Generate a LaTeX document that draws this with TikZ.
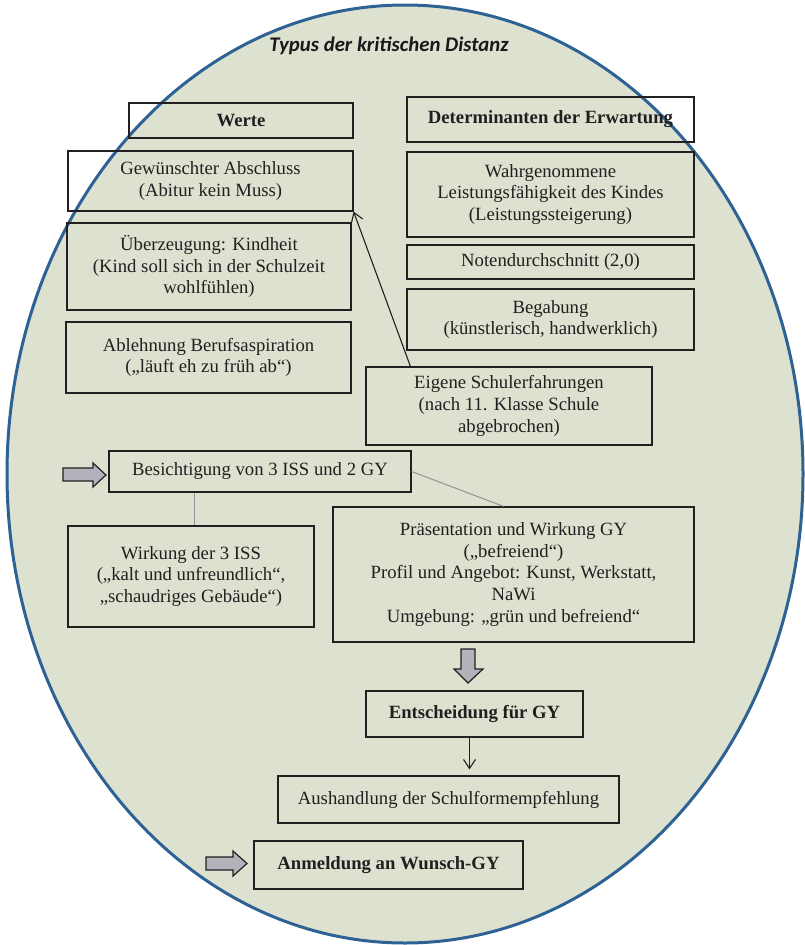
\documentclass[tikz,border=0pt]{standalone}
\usepackage{fontspec}
\setmainfont{Liberation Serif}
\newfontfamily\titelschrift{Carlito}
\usetikzlibrary{arrows.meta,backgrounds}
\definecolor{randblau}{RGB}{47,98,148}
\definecolor{flaeche}{RGB}{221,225,207}
\definecolor{pfeilgrau}{RGB}{178,178,186}
\definecolor{textgrau}{RGB}{35,31,32}
\newcommand{\randfarbe}{randblau}
\newcommand{\linienbreite}{1.2pt}
\newcommand{\schrift}{\fontsize{18.7}{21.7}\selectfont}
\tikzset{
  kasten/.style={draw=textgrau, line width=\linienbreite, inner sep=0pt, align=center, font=\schrift, text=textgrau},
  linie/.style={draw=gray!85, line width=1pt},
  pfeil/.style={draw=textgrau, line width=1.1pt, -{Straight Barb[length=9pt,width=12pt]}},
  blockpfeil/.style={draw=textgrau, fill=pfeilgrau, line width=1.2pt, line join=miter}
}

\begin{document}
\begin{tikzpicture}[x=1pt,y=-1pt]
\useasboundingbox (0,0) rectangle (804,945);
\node[font=\titelschrift\bfseries\itshape\fontsize{20.8}{24}\selectfont, text=black!90] (titel) at (389, 46) {Typus der kritischen Distanz};
%Werte
\node[kasten] (werte) at (241, 120.5) [minimum width=224pt, minimum height=35pt] {\bfseries Werte};
\node[kasten] (abschluss) at (210.5, 181) [minimum width=285pt, minimum height=60pt] {Gewünschter Abschluss\\(Abitur kein Muss)};
\node[kasten] (kindheit) at (209, 266.5) [minimum width=284pt, minimum height=87pt] {Überzeugung: Kindheit\\(Kind soll sich in der Schulzeit\\wohlfühlen)};
\node[kasten] (beruf) at (208.5, 357.5) [minimum width=285pt, minimum height=71pt] {Ablehnung Berufsaspiration\\(„läuft eh zu früh ab“)};
%Determinanten
\node[kasten] (determ) at (550.5, 119.5) [minimum width=287pt, minimum height=45pt] {\bfseries Determinanten der Erwartung};
\node[kasten] (leistung) at (550.5, 194.5) [minimum width=287pt, minimum height=85pt] {Wahrgenommene\\Leistungsfähigkeit des Kindes\\(Leistungssteigerung)};
\node[kasten] (noten) at (550.5, 262) [minimum width=287pt, minimum height=34pt] {Notendurchschnitt (2,0)};
\node[kasten] (begabung) at (550.5, 319.5) [minimum width=287pt, minimum height=61pt] {Begabung\\(künstlerisch, handwerklich)};
\node[kasten] (erfahrung) at (509, 406) [minimum width=286pt, minimum height=78pt] {Eigene Schulerfahrungen\\(nach 11. Klasse Schule\\abgebrochen)};
%Besichtigung
\node[kasten] (besicht) at (260, 471.5) [minimum width=302pt, minimum height=41pt] {Besichtigung von 3 ISS und 2 GY};
\node[kasten] (iss) at (191, 576.5) [minimum width=246pt, minimum height=101pt] {Wirkung der 3 ISS\\(„kalt und unfreundlich“,\\„schaudriges Gebäude“)};
\node[kasten] (gy) at (513.5, 574.5) [minimum width=361pt, minimum height=135pt] {Präsentation und Wirkung GY\\(„befreiend“)\\Profil und Angebot: Kunst, Werkstatt,\\NaWi\\Umgebung: „grün und befreiend“};
%Entscheidung
\node[kasten] (entsch) at (474.5, 714) [minimum width=217pt, minimum height=46pt] {\bfseries Entscheidung für GY};
\node[kasten] (aushandlung) at (448.5, 799.5) [minimum width=341pt, minimum height=47pt] {Aushandlung der Schulformempfehlung};
\node[kasten] (anmeldung) at (388.5, 865) [minimum width=269pt, minimum height=48pt] {\bfseries Anmeldung an Wunsch-GY};
%Verbindungen
\draw[pfeil] ([xshift=45pt]erfahrung.north west) -- (abschluss.south east);
\draw[linie] ([xshift=3pt]iss.north |- besicht.south) -- ([xshift=3pt]iss.north);
\draw[linie] (besicht.east) -- ([xshift=-10pt]gy.north);
\draw[pfeil] ([xshift=-5pt]entsch.south) -- ([xshift=-5pt,yshift=6pt]entsch.south |- aushandlung.north);
%Blockpfeile
\draw[blockpfeil] (63,468) -- (93,468) -- (93,463) -- (106,475) -- (93,487) -- (93,481) -- (63,481) -- cycle;
\draw[blockpfeil] (461,649) -- (475,649) -- (475,669) -- (483,669) -- (468,683) -- (454,669) -- (461,669) -- cycle;
\draw[blockpfeil] (206,857) -- (233,857) -- (233,851) -- (247,863.5) -- (233,876) -- (233,870) -- (206,870) -- cycle;
%Ellipse
\begin{scope}[on background layer]
\filldraw[fill=flaeche, draw=\randfarbe, line width=3pt] (405, 474) ellipse [x radius=398, y radius=469];
\end{scope}
\end{tikzpicture}
\end{document}
